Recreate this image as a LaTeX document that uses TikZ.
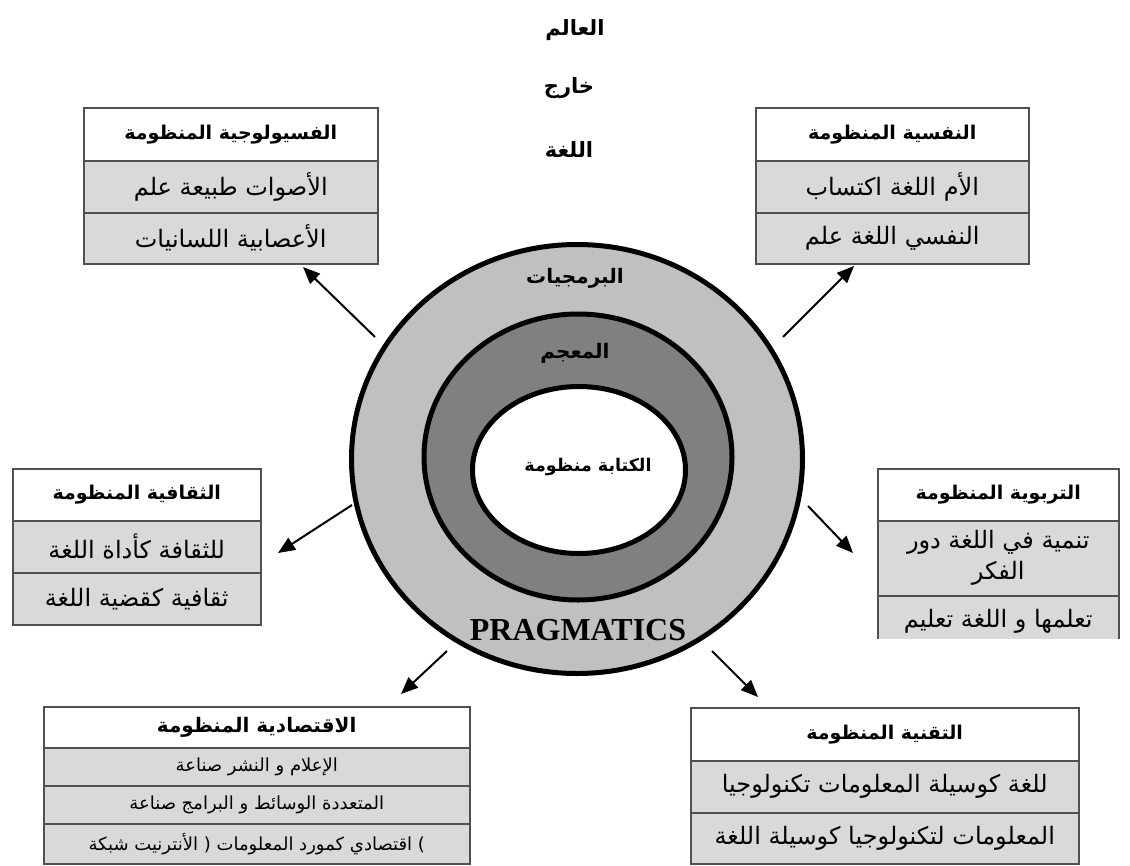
\documentclass[tikz,border=0pt]{standalone}
\usepackage{fontspec}
\setmainfont{Liberation Serif}
\newfontfamily\arab[Script=Arabic]{DejaVu Sans}
\TeXXeTstate=1
\usetikzlibrary{shapes.geometric,arrows.meta}
\definecolor{ringA}{HTML}{C0C0C0}
\definecolor{ringB}{HTML}{808080}
\definecolor{rowgray}{HTML}{D9D9D9}
\definecolor{boxline}{HTML}{505050}
\tikzset{
  hdr/.style={draw=boxline, line width=1.5pt, fill=white, inner sep=0pt, anchor=north west,
    font=\arab\bfseries\fontsize{19}{24}\selectfont},
  itm/.style={draw=boxline, line width=1.5pt, fill=rowgray, inner sep=0pt, anchor=north west,
    font=\arab\fontsize{24}{31}\selectfont, align=center},
  smitm/.style={itm, font=\arab\fontsize{18}{22}\selectfont},
  smhdr/.style={hdr, font=\arab\bfseries\fontsize{20}{24}\selectfont},
  ring/.style={ellipse, draw=black, line width=5pt, inner sep=0pt},
  arr/.style={line width=2pt, -{Triangle[length=17pt,width=14pt]}},
  ttl/.style={font=\arab\bfseries\fontsize{21}{26}\selectfont, inner sep=0pt},
  ringtxt/.style={font=\arab\bfseries\fontsize{20}{24}\selectfont, inner sep=0pt},
}
\begin{document}
\begin{tikzpicture}[x=1pt, y=-1pt]
\useasboundingbox (0,0) rectangle (1130,865);

% title
\node[ttl] (t1) at (575,30) {\beginR العالم\endR};
\node[ttl] (t2) at (569,88) {\beginR خارج\endR};
\node[ttl] (t3) at (569,150) {\beginR اللغة\endR};

% rings
\node[ring, fill=ringA, minimum width=451pt, minimum height=429pt] (outer) at (577,459) {};
\node[ring, fill=ringB, minimum width=308pt, minimum height=286pt] (middle) at (578,457) {};
\node[ring, fill=white, minimum width=213pt, minimum height=167pt] (inner) at (579,470) {};
\node[ringtxt] (prog) at (575,278) {\beginR البرمجيات\endR};
\node[ringtxt] (lex) at (575,353) {\beginR المعجم\endR};
\node[font=\arab\bfseries\fontsize{17.5}{20}\selectfont, inner sep=0pt] (writ) at (588,467) {\beginR الكتابة منظومة\endR};
\node[font=\bfseries\fontsize{32}{34}\selectfont, inner sep=0pt] (prag) at (578,630) {PRAGMATICS};

% top-left box
\node[hdr, minimum width=294pt, minimum height=53pt] (tlh) at (83,107) {\beginR الفسيولوجية المنظومة\endR};
\node[itm, minimum width=294pt, minimum height=52pt] (tl1) at (83,160) {\beginR الأصوات طبيعة علم\endR};
\node[itm, minimum width=294pt, minimum height=51pt] (tl2) at (83,212) {\beginR الأعصابية اللسانيات\endR};

% top-right box
\node[hdr, minimum width=273pt, minimum height=53pt] (trh) at (755,107) {\beginR النفسية المنظومة\endR};
\node[itm, minimum width=273pt, minimum height=52pt] (tr1) at (755,160) {\beginR الأم اللغة اكتساب\endR};
\node[itm, minimum width=273pt, minimum height=51pt] (tr2) at (755,212) {\beginR النفسي اللغة علم\endR};

% middle-left box
\node[hdr, minimum width=248pt, minimum height=52pt] (mlh) at (12,468) {\beginR الثقافية المنظومة\endR};
\node[itm, minimum width=248pt, minimum height=52pt] (ml1) at (12,520) {\beginR للثقافة كأداة اللغة\endR};
\node[itm, minimum width=248pt, minimum height=52pt] (ml2) at (12,572) {\beginR ثقافية كقضية اللغة\endR};

% middle-right box
\node[hdr, minimum width=241pt, minimum height=52pt] (mrh) at (877,468) {\beginR التربوية المنظومة\endR};
\node[itm, minimum width=241pt, minimum height=75pt] (mr1) at (877,520) {\beginR تنمية في اللغة دور\endR\\\beginR الفكر\endR};
\begin{scope}
\clip (870,590) rectangle (1125,638);
\node[itm, minimum width=241pt, minimum height=52pt] (mr2) at (877,595) {\beginR تعلمها و اللغة تعليم\endR};
\end{scope}

% bottom-left box
\node[smhdr, minimum width=426pt, minimum height=41pt] (blh) at (43,706) {\beginR الاقتصادية المنظومة\endR};
\node[smitm, minimum width=426pt, minimum height=38pt] (bl1) at (43,747) {\beginR الإعلام و النشر صناعة\endR};
\node[smitm, minimum width=426pt, minimum height=38pt] (bl2) at (43,785) {\beginR المتعددة الوسائط و البرامج صناعة\endR};
\node[smitm, minimum width=426pt, minimum height=40pt] (bl3) at (43,823) {\beginR ) اقتصادي كمورد المعلومات ( الأنترنيت شبكة\endR};

% bottom-right box
\node[hdr, minimum width=388pt, minimum height=53pt] (brh) at (690,707) {\beginR التقنية المنظومة\endR};
\node[itm, minimum width=388pt, minimum height=52pt] (br1) at (690,760) {\beginR للغة كوسيلة المعلومات تكنولوجيا\endR};
\node[itm, minimum width=388pt, minimum height=51pt] (br2) at (690,812) {\beginR المعلومات لتكنولوجيا كوسيلة اللغة\endR};

% arrows
\coordinate (s1) at (375,337); \coordinate (e1) at (303,267);
\coordinate (s2) at (783,337); \coordinate (e2) at (854,266);
\coordinate (s3) at (352,505); \coordinate (e3) at (278,553);
\coordinate (s4) at (808,506); \coordinate (e4) at (853,553);
\coordinate (s5) at (447,651); \coordinate (e5) at (401,694);
\coordinate (s6) at (712,651); \coordinate (e6) at (758,697);
\draw[arr] (s1) -- (e1);
\draw[arr] (s2) -- (e2);
\draw[arr] (s3) -- (e3);
\draw[arr] (s4) -- (e4);
\draw[arr] (s5) -- (e5);
\draw[arr] (s6) -- (e6);
\end{tikzpicture}
\end{document}
